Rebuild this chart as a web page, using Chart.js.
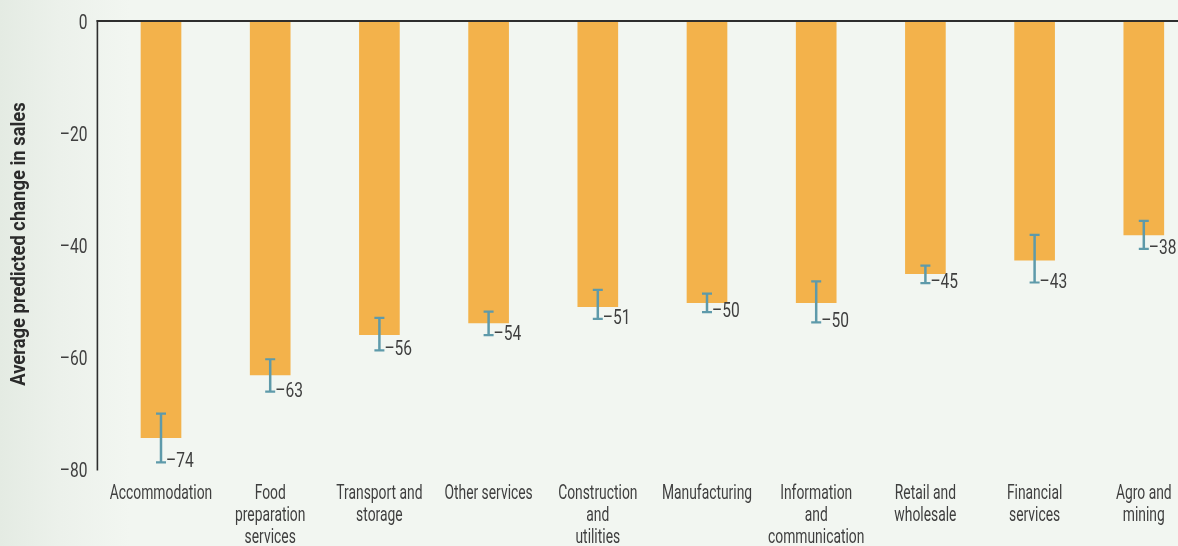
<!DOCTYPE html>
<html>
<head>
<meta charset="utf-8">
<script src="https://cdn.jsdelivr.net/npm/chart.js@4.4.1/dist/chart.umd.min.js"></script>
<style>
  html, body { margin: 0; padding: 0; width: 1178px; height: 546px; overflow: hidden; }
  body { background: linear-gradient(to right, #e4ebe3 0px, #ecf1eb 60px, #f2f6f1 130px, #f2f6f1 100%); }
  #wrap { position: absolute; left: 0; top: 0; width: 1200px; height: 546px; }
</style>
</head>
<body>
<div id="wrap"><canvas id="c" width="1200" height="546"></canvas></div>
<script>
// ---- data ----
const categories = [
  'Accommodation',
  ['Food', 'preparation', 'services'],
  ['Transport and', 'storage'],
  'Other services',
  ['Construction', 'and', 'utilities'],
  'Manufacturing',
  ['Information', 'and', 'communication'],
  ['Retail and', 'wholesale'],
  ['Financial', 'services'],
  ['Agro and', 'mining']
];
const salesChange = [-74.4, -63.2, -56.0, -53.9, -51.0, -50.3, -50.3, -45.1, -42.7, -38.2];
const errLow  = [-78.8, -66.2, -58.8, -56.1, -53.2, -52.0, -53.8, -46.8, -46.7, -40.7];
const errHigh = [-70.1, -60.4, -53.0, -51.9, -48.0, -48.7, -46.5, -43.7, -38.2, -35.7];
const yTicks = [0, -20, -40, -60, -80];
const yTickLabels = ['0', '\u201320', '\u201340', '\u201360', '\u201380'];
const yTitle = 'Average predicted change in sales';

const FONT = "Roboto, 'Noto Sans', sans-serif";
const TEXT = '#3f3f3f';
const BAR = '#F3B24B';
const ERR = '#5E9AAA';

function fmt(v) { const r = Math.round(v); return r < 0 ? '\u2013' + Math.abs(r) : String(r); }

// draw horizontally condensed text (the reference uses a condensed typeface)
function condensed(ctx, text, x, y, align, sx) {
  ctx.save();
  ctx.translate(x, y);
  ctx.scale(sx, 1);
  ctx.textAlign = align;
  ctx.fillText(text, 0, 0);
  ctx.restore();
}

const overlay = {
  id: 'overlay',
  afterDatasetsDraw(chart) {
    const ctx = chart.ctx;
    const y = chart.scales.y;
    const x = chart.scales.x;
    const meta = chart.getDatasetMeta(0);
    const area = chart.chartArea;
    const ax = area.left - 9;
    ctx.save();
    // axis lines
    ctx.strokeStyle = '#2e2e2e';
    ctx.lineWidth = 1.6;
    ctx.beginPath();
    ctx.moveTo(ax, y.getPixelForValue(0) - 1);
    ctx.lineTo(ax, y.getPixelForValue(-80) + 1.5);
    ctx.stroke();
    ctx.lineWidth = 2;
    ctx.beginPath();
    ctx.moveTo(ax - 0.8, y.getPixelForValue(0));
    ctx.lineTo(chart.width, y.getPixelForValue(0));
    ctx.stroke();
    // error bars
    ctx.strokeStyle = ERR;
    meta.data.forEach((bar, i) => {
      const bx = bar.x;
      const yl = y.getPixelForValue(errLow[i]);
      const yh = y.getPixelForValue(errHigh[i]);
      ctx.lineWidth = 2.5;
      ctx.beginPath();
      ctx.moveTo(bx, yl); ctx.lineTo(bx, yh);
      ctx.stroke();
      ctx.lineWidth = 2.2;
      ctx.beginPath();
      ctx.moveTo(bx - 5, yl); ctx.lineTo(bx + 5, yl);
      ctx.moveTo(bx - 5, yh); ctx.lineTo(bx + 5, yh);
      ctx.stroke();
    });
    ctx.fillStyle = TEXT;
    ctx.textBaseline = 'alphabetic';
    // value labels
    ctx.font = '21px ' + FONT;
    meta.data.forEach((bar, i) => {
      condensed(ctx, fmt(salesChange[i]), bar.x + 5, y.getPixelForValue(errLow[i]) + 5, 'left', 0.74);
    });
    // y tick labels
    yTicks.forEach((v, k) => {
      condensed(ctx, yTickLabels[k], ax - 10, y.getPixelForValue(v) + 8, 'right', 0.74);
    });
    // x category labels
    categories.forEach((lab, i) => {
      const lines = Array.isArray(lab) ? lab : [lab];
      const cx = x.getPixelForTick(i);
      lines.forEach((ln, j) => {
        condensed(ctx, ln, cx, area.bottom + 30 + j * 22, 'center', 0.66);
      });
    });
    // y axis title
    ctx.fillStyle = '#2b2b2b';
    ctx.font = 'bold 20px ' + FONT;
    ctx.save();
    ctx.translate(25, (area.top + area.bottom) / 2 - 1);
    ctx.rotate(-Math.PI / 2);
    ctx.scale(0.92, 1);
    ctx.textAlign = 'center';
    ctx.fillText(yTitle, 0, 0);
    ctx.restore();
    ctx.restore();
  }
};

new Chart(document.getElementById('c'), {
  type: 'bar',
  data: {
    labels: categories,
    datasets: [{
      data: salesChange,
      backgroundColor: BAR,
      borderWidth: 0,
      barThickness: 40
    }]
  },
  options: {
    responsive: false,
    animation: false,
    layout: { padding: { top: 21, right: 1.6, bottom: 0, left: 0 } },
    plugins: { legend: { display: false }, tooltip: { enabled: false } },
    scales: {
      x: {
        grid: { display: false, drawTicks: false },
        border: { display: false },
        ticks: { display: false },
        afterFit(s) { s.height = 77; s.paddingLeft = 0; s.paddingRight = 0; }
      },
      y: {
        min: -80,
        max: 0,
        grid: { display: false, drawTicks: false },
        border: { display: false },
        afterBuildTicks(s) { s.ticks = yTicks.map(v => ({ value: v })); },
        ticks: { display: false },
        afterFit(s) { s.width = 106.4; s.paddingTop = 0; s.paddingBottom = 0; }
      }
    }
  },
  plugins: [overlay]
});
</script>
</body>
</html>
